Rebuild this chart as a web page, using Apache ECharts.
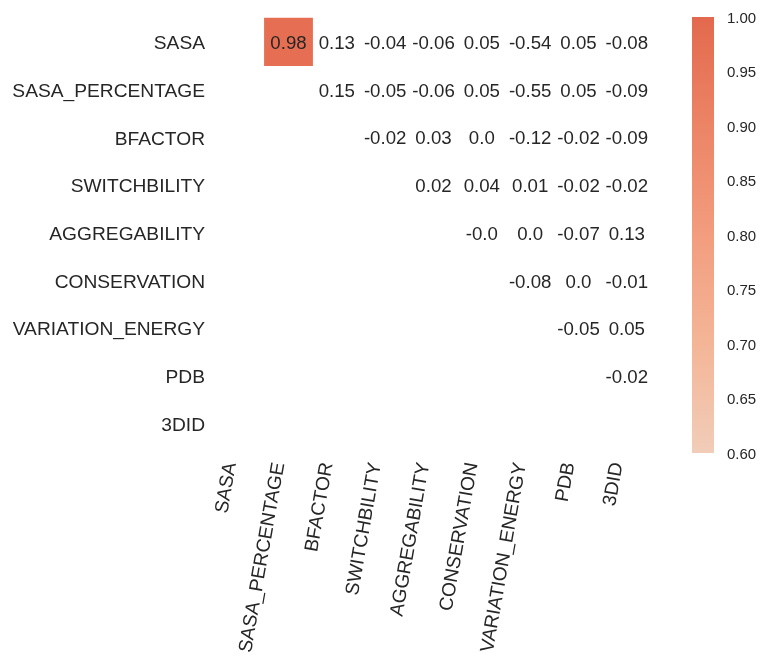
<!DOCTYPE html>
<html>
<head>
<meta charset="utf-8">
<script src="https://cdn.jsdelivr.net/npm/echarts@6/dist/echarts.min.js"></script>
<style>
  html, body { margin: 0; padding: 0; background: #ffffff; }
  #chart { width: 760px; height: 657px; }
</style>
</head>
<body>
<div id="chart"></div>
<script>
// Feature names, shared by both axes
const features = ['SASA', 'SASA_PERCENTAGE', 'BFACTOR', 'SWITCHBILITY', 'AGGREGABILITY',
                  'CONSERVATION', 'VARIATION_ENERGY', 'PDB', '3DID'];

// Upper-triangle correlations: each row lists the columns to the right of the diagonal
const rowSASA            = [0.98, 0.13, -0.04, -0.06, 0.05, -0.54, 0.05, -0.08];
const rowSASAPercentage  = [0.15, -0.05, -0.06, 0.05, -0.55, 0.05, -0.09];
const rowBfactor         = [-0.02, 0.03, 0.0, -0.12, -0.02, -0.09];
const rowSwitchbility    = [0.02, 0.04, 0.01, -0.02, -0.02];
const rowAggregability   = [-0.0, 0.0, -0.07, 0.13];
const rowConservation    = [-0.08, 0.0, -0.01];
const rowVariationEnergy = [-0.05, 0.05];
const rowPDB             = [-0.02];

const upperRows = [rowSASA, rowSASAPercentage, rowBfactor, rowSwitchbility,
                   rowAggregability, rowConservation, rowVariationEnergy, rowPDB];

// Colour scale range and its tick step
const scaleMin = 0.6;
const scaleMax = 1.0;
const scaleStep = 0.05;

const palette = ['#f1cdb9', '#f4b597', '#f29d7e', '#ec8466', '#e3694e'];
const textColor = '#262626';
const fontFamily = 'Liberation Sans, Arial, sans-serif';

// [column, row, value] triplets; cells under the colour range keep only their text
const shadedCells = [];
const plainCells = [];
upperRows.forEach(function (vals, r) {
  vals.forEach(function (v, k) {
    const cell = [r + 1 + k, r, v];
    if (v >= scaleMin) shadedCells.push(cell); else plainCells.push(cell);
  });
});

// Python-like number text: 0 -> "0.0", -0 -> "-0.0"
function fmt(v) {
  if (Object.is(v, -0)) return '-0.0';
  if (Number.isInteger(v)) return v.toFixed(1);
  return String(v);
}

const cellLabel = {
  show: true,
  position: 'inside',
  offset: [0, 2],
  color: textColor,
  fontSize: 18.67,
  fontFamily: fontFamily,
  formatter: function (p) { return fmt(p.value[2]); }
};

const chart = echarts.init(document.getElementById('chart'), null, { renderer: 'canvas' });

const hiddenAxisParts = {
  axisLine: { show: false },
  axisTick: { show: false },
  splitLine: { show: false },
  splitArea: { show: false }
};

chart.setOption({
  backgroundColor: '#ffffff',
  animation: false,
  textStyle: { fontFamily: fontFamily },
  grid: [
    { left: 216, top: 18, width: 435, height: 434 },
    {
      left: 692, top: 17, width: 22, height: 436,
      show: true, borderWidth: 0,
      backgroundColor: new echarts.graphic.LinearGradient(0, 1, 0, 0,
        palette.map(function (c, i) { return { offset: i / (palette.length - 1), color: c }; }))
    }
  ],
  xAxis: [
    Object.assign({
      type: 'category', gridIndex: 0, data: features,
      axisLabel: {
        interval: 0, rotate: 80, margin: 17, verticalAlign: 'bottom',
        color: textColor, fontSize: 19.2, fontFamily: fontFamily
      }
    }, hiddenAxisParts),
    Object.assign({
      type: 'category', gridIndex: 1, data: [''],
      axisLabel: { show: false }
    }, hiddenAxisParts)
  ],
  yAxis: [
    Object.assign({
      type: 'category', gridIndex: 0, data: features, inverse: true,
      axisLabel: {
        interval: 0, margin: 11,
        formatter: function (v) { return '{t|' + v + '}'; },
        rich: {
          t: { color: textColor, fontSize: 19.2, fontFamily: fontFamily, padding: [4, 0, 0, 0] }
        }
      }
    }, hiddenAxisParts),
    Object.assign({
      type: 'value', gridIndex: 1, position: 'right',
      min: scaleMin, max: scaleMax, interval: scaleStep,
      axisLabel: {
        margin: 13,
        formatter: function (v) { return '{t|' + v.toFixed(2) + '}'; },
        rich: {
          t: { color: textColor, fontSize: 15, fontFamily: fontFamily, padding: [3, 0, 0, 0] }
        }
      }
    }, hiddenAxisParts)
  ],
  visualMap: {
    show: false,
    type: 'continuous',
    seriesIndex: 0,
    dimension: 2,
    min: scaleMin,
    max: scaleMax,
    inRange: { color: palette }
  },
  series: [
    {
      type: 'heatmap',
      xAxisIndex: 0,
      yAxisIndex: 0,
      data: shadedCells,
      itemStyle: { borderWidth: 0 },
      label: cellLabel,
      emphasis: { disabled: true }
    },
    {
      type: 'scatter',
      xAxisIndex: 0,
      yAxisIndex: 0,
      data: plainCells,
      symbolSize: 1,
      itemStyle: { color: 'rgba(255,255,255,0)', opacity: 1 },
      label: cellLabel,
      emphasis: { disabled: true }
    }
  ]
});
</script>
</body>
</html>
